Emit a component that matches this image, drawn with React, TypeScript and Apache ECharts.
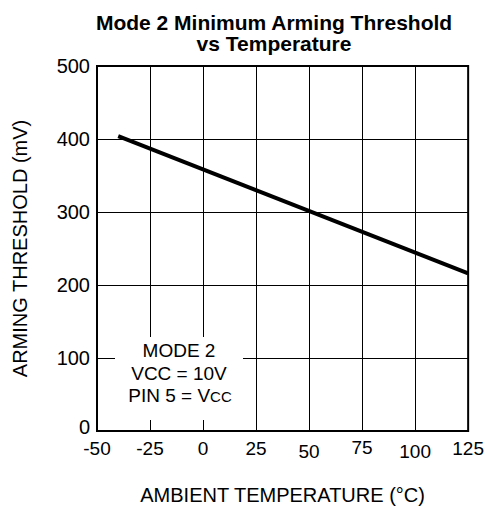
import React, { useEffect, useRef } from "react";
import * as echarts from "echarts";

const temps = [-40, 125];
const threshold = [404, 216];
const xTicks = [-50, -25, 0, 25, 50, 75, 100, 125];
const lowLabels = [50, 100];
const highLabels = [75];
const yTicks = [0, 100, 200, 300, 400, 500];
const titleText = "Mode 2 Minimum Arming Threshold\nvs Temperature";
const noteLines = ["MODE 2", "VCC = 10V", "PIN 5 = V", "CC"];

const FONT = "Liberation Sans, Arial, Helvetica, sans-serif";

export default function App() {
  const ref = useRef<HTMLDivElement>(null);
  useEffect(() => {
    if (!ref.current) return;
    const chart = echarts.init(ref.current, undefined, { renderer: "svg" });
    chart.setOption({
      animation: false,
      backgroundColor: "#fff",
      title: {
        text: titleText,
        left: 274,
        textAlign: "center",
        top: 12,
        padding: 0,
        textStyle: { fontFamily: FONT, fontSize: 21, fontWeight: "bold", color: "#000", lineHeight: 21 },
      },
      grid: { left: 97, right: 16, top: 66, bottom: 69, show: true, borderColor: "#000", borderWidth: 2, backgroundColor: "transparent" },
      xAxis: {
        type: "value",
        min: xTicks[0],
        max: xTicks[xTicks.length - 1],
        interval: 25,
        name: "AMBIENT TEMPERATURE (°C)",
        nameLocation: "middle",
        nameGap: 54,
        nameTextStyle: { fontFamily: FONT, fontSize: 20, color: "#000" },
        axisLine: { show: true, lineStyle: { color: "#000", width: 2 } },
        axisTick: { show: false },
        splitLine: { show: true, lineStyle: { color: "#000", width: 1 } },
        axisLabel: {
          margin: 7,
          fontFamily: FONT,
          fontSize: 19,
          color: "#000",
          formatter: (v: number) =>
            lowLabels.indexOf(v) >= 0 ? `{low|${v}}` : highLabels.indexOf(v) >= 0 ? `{high|${v}}` : `{n|${v}}`,
          rich: {
            n: { fontFamily: FONT, fontSize: 19, color: "#000", padding: [1, 0, 0, 0] },
            low: { fontFamily: FONT, fontSize: 19, color: "#000", padding: [4, 0, 0, 0] },
            high: { fontFamily: FONT, fontSize: 19, color: "#000", padding: [0, 0, 0, 0] },
          },
        },
      },
      yAxis: {
        type: "value",
        min: yTicks[0],
        max: yTicks[yTicks.length - 1],
        interval: 100,
        name: "ARMING THRESHOLD (mV)",
        nameLocation: "middle",
        nameGap: 67,
        nameTextStyle: { fontFamily: FONT, fontSize: 20, color: "#000" },
        axisLine: { show: true, onZero: false, lineStyle: { color: "#000", width: 2 } },
        axisTick: { show: false },
        splitLine: { show: true, lineStyle: { color: "#000", width: 1 } },
        axisLabel: {
          margin: 7,
          fontFamily: FONT,
          fontSize: 20,
          color: "#000",
          formatter: (v: number) => (v === yTicks[0] ? `{z|${v}}` : `{n|${v}}`),
          rich: {
            n: { fontFamily: FONT, fontSize: 20, color: "#000" },
            z: { fontFamily: FONT, fontSize: 20, color: "#000", padding: [0, 0, 9, 0] },
          },
        },
      },
      series: [
        {
          type: "line",
          data: temps.map((t, i) => [t, threshold[i]]),
          showSymbol: false,
          lineStyle: { color: "#000", width: 4 },
          z: 5,
        },
      ],
      graphic: [
        {
          type: "rect",
          shape: { x: 115, y: 337, width: 128, height: 83 },
          style: { fill: "#fff" },
          z: 10,
        },
        {
          type: "text",
          x: 179,
          y: 350,
          z: 11,
          style: { text: noteLines[0], fontFamily: FONT, fontSize: 19, fill: "#000", align: "center", verticalAlign: "middle" },
        },
        {
          type: "text",
          x: 179,
          y: 373,
          z: 11,
          style: { text: noteLines[1], fontFamily: FONT, fontSize: 19, fill: "#000", align: "center", verticalAlign: "middle" },
        },
        {
          type: "text",
          x: 180,
          y: 395,
          z: 11,
          style: {
            text: `{a|${noteLines[2]}}{b|${noteLines[3]}}`,
            align: "center",
            verticalAlign: "middle",
            rich: {
              a: { fontFamily: FONT, fontSize: 19, fill: "#000", verticalAlign: "bottom" },
              b: { fontFamily: FONT, fontSize: 15, fill: "#000", verticalAlign: "bottom", padding: [0, 0, 1, 0] },
            },
          },
        },
      ],
    });
    return () => chart.dispose();
  }, []);
  return <div ref={ref} style={{ position: "fixed", left: 0, top: 0, width: 487, height: 510 }} />;
}
